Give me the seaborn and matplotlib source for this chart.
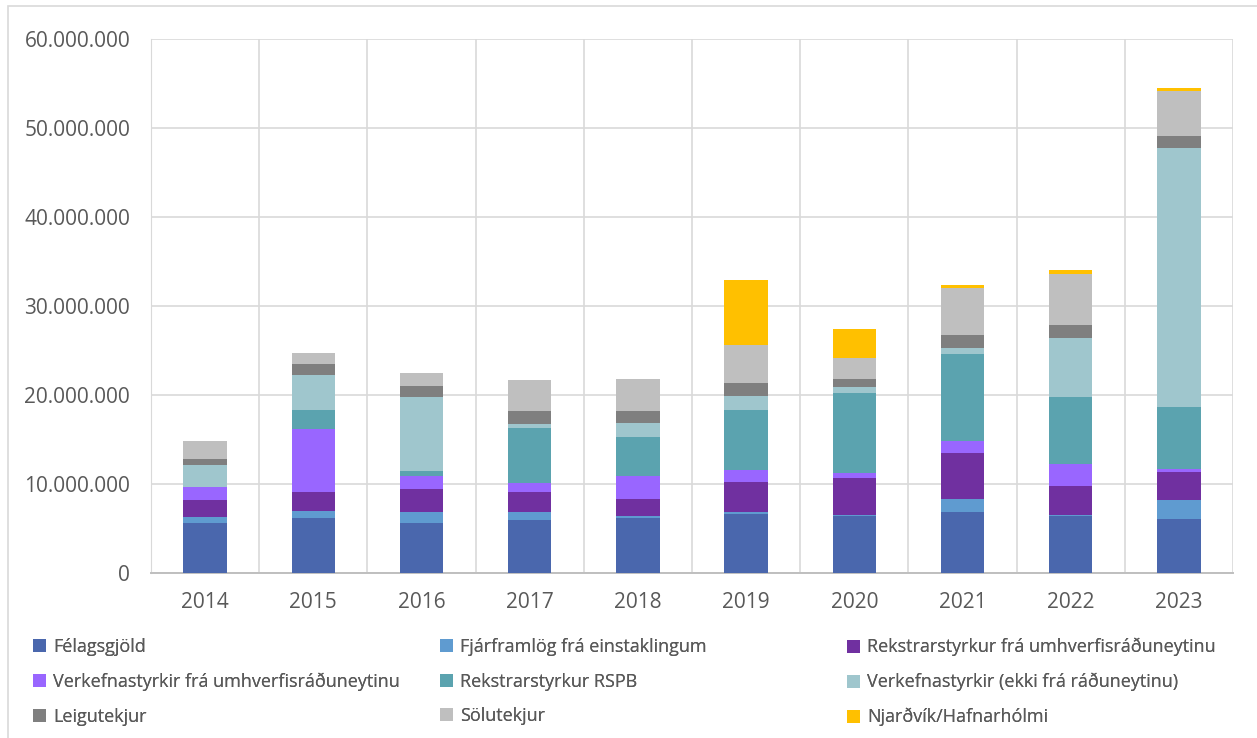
import numpy as np
import pandas as pd
import matplotlib
matplotlib.use("Agg")
import matplotlib.pyplot as plt
from matplotlib.ticker import FuncFormatter, FixedLocator
from matplotlib.patches import Rectangle
import seaborn as sns

# Data (values in millions ISK)
years = ["2014", "2015", "2016", "2017", "2018", "2019", "2020", "2021", "2022", "2023"]

felagsgjold = [5.57, 6.17, 5.60, 5.91, 6.13, 6.61, 6.39, 6.88, 6.39, 6.10]
fjarframlog = [0.75, 0.78, 1.24, 0.89, 0.23, 0.23, 0.11, 1.46, 0.08, 2.09]
rekstrar_umhv = [1.87, 2.11, 2.63, 2.26, 1.91, 3.37, 4.13, 5.10, 3.26, 3.15]
verkefna_umhv = [1.50, 7.16, 1.46, 1.01, 2.66, 1.32, 0.56, 1.43, 2.55, 0.38]
rekstrar_rspb = [0.00, 2.06, 0.49, 6.18, 4.31, 6.83, 9.08, 9.74, 7.54, 6.98]
verkefna_ekki = [2.40, 3.94, 8.36, 0.53, 1.66, 1.57, 0.60, 0.64, 6.64, 29.05]
leigutekjur = [0.68, 1.23, 1.27, 1.42, 1.30, 1.39, 0.90, 1.54, 1.38, 1.32]
solutekjur = [2.02, 1.32, 1.39, 3.49, 3.64, 4.30, 2.39, 5.18, 5.77, 5.13]
njardvik = [0.00, 0.00, 0.00, 0.00, 0.00, 7.25, 3.27, 0.37, 0.42, 0.30]

series_names = [
    "Félagsgjöld",
    "Fjárframlög frá einstaklingum",
    "Rekstrarstyrkur frá umhverfisráðuneytinu",
    "Verkefnastyrkir frá umhverfisráðuneytinu",
    "Rekstrarstyrkur RSPB",
    "Verkefnastyrkir (ekki frá ráðuneytinu)",
    "Leigutekjur",
    "Sölutekjur",
    "Njarðvík/Hafnarhólmi",
]
series_values = [felagsgjold, fjarframlog, rekstrar_umhv, verkefna_umhv, rekstrar_rspb,
                 verkefna_ekki, leigutekjur, solutekjur, njardvik]
colors = ["#4A67AD", "#5F9BD0", "#7030A0", "#9966FF", "#5BA3AF",
          "#9FC6CD", "#7F7F7F", "#BFBFBF", "#FFC000"]

df = pd.DataFrame({name: np.array(v) * 1e6 for name, v in zip(series_names, series_values)})
df.insert(0, "year", years)

sns.set_style("white")
plt.rcParams['font.family'] = ['Open Sans', 'DejaVu Sans']
text_color = "#595959"
grid_color = "#D9D9D9"
tick_fs = 15
leg_fs = 13

fig = plt.figure(figsize=(12.57, 7.38), dpi=100)
ax = fig.add_axes([151 / 1257, 1 - 573 / 738, (1233 - 151) / 1257, (573 - 39) / 738])

# stacked bars: draw cumulative totals from the top series down
cum = df[series_names].cumsum(axis=1)
for name, color in reversed(list(zip(series_names, colors))):
    sns.barplot(x=df["year"], y=cum[name], color=color, width=0.4, saturation=1,
                linewidth=0, errorbar=None, ax=ax, zorder=3)

ax.set_xlabel("")
ax.set_ylabel("")
ax.set_xlim(-0.5, len(years) - 0.5)
ax.set_ylim(0, 60e6)
ax.set_yticks(np.arange(0, 60e6 + 1, 10e6))
ax.yaxis.set_major_formatter(FuncFormatter(lambda v, p: f"{v:,.0f}".replace(",", ".")))
ax.xaxis.set_minor_locator(FixedLocator(np.arange(-0.5, len(years), 1)))

ax.grid(axis="y", which="major", color=grid_color, linewidth=1.2, zorder=0)
ax.grid(axis="x", which="minor", color=grid_color, linewidth=1.2, zorder=0)
ax.set_axisbelow(True)
for side in ["top", "right"]:
    ax.spines[side].set_visible(False)
ax.spines["left"].set_color(grid_color)
ax.spines["bottom"].set_color("#BFBFBF")
ax.spines["bottom"].set_linewidth(1.4)
ax.tick_params(axis="both", which="both", length=0, labelsize=tick_fs, labelcolor=text_color)
ax.tick_params(axis="y", pad=15)
ax.tick_params(axis="x", pad=14)

# legend: three columns, entries in row order
handles = [Rectangle((0, 0), 1, 1, facecolor=c, edgecolor="none") for c in colors]
col_x = [33 / 1257, 440 / 1257, 847 / 1257]
for col in range(3):
    idx = [col, col + 3, col + 6]
    leg = fig.legend([handles[i] for i in idx], [series_names[i] for i in idx],
                     loc="upper left", bbox_to_anchor=(col_x[col], 1 - 638 / 738),
                     frameon=False, fontsize=leg_fs, labelcolor=text_color,
                     handlelength=0.72, handleheight=0.72, handletextpad=0.4,
                     labelspacing=0.92, borderaxespad=0, borderpad=0)
    fig.add_artist(leg)

# light frame around the chart area
fig.patches.append(Rectangle((8 / 1257, -0.02), 1.2, 1 - 6 / 738 + 0.02, transform=fig.transFigure,
                             fill=False, edgecolor=grid_color, linewidth=1.2))

fig.savefig("out.png", dpi=100)
